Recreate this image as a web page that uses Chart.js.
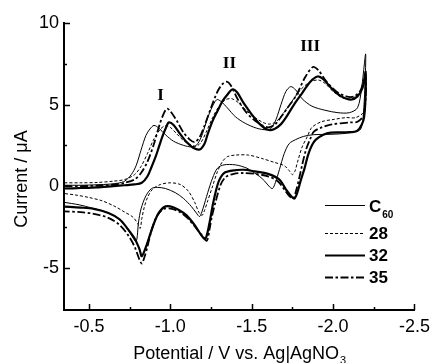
<!DOCTYPE html>
<html><head><meta charset="utf-8">
<script src="https://cdn.jsdelivr.net/npm/chart.js@4/dist/chart.umd.min.js"></script>
<style>html,body{margin:0;padding:0;background:#fff}canvas{display:block}</style>
</head><body>
<canvas id="c" width="436" height="363"></canvas>
<script>
// ---- data (potential in V vs Ag|AgNO3, current in uA) ----
const seriesLabels = ['C60', '28', '32', '35'];

const c60FwdE = [-0.35,-0.45,-0.55,-0.63,-0.68,-0.72,-0.76,-0.79,-0.82,-0.85,-0.875,-0.90,-0.93,-0.97,-1.02,-1.08,-1.13,-1.16,-1.19,-1.22,-1.25,-1.285,-1.31,-1.35,-1.40,-1.46,-1.53,-1.59,-1.62,-1.65,-1.68,-1.71,-1.74,-1.77,-1.81,-1.87,-1.95,-2.03,-2.10,-2.15,-2.175,-2.20];
const c60FwdI = [0.05,0.05,0.08,0.12,0.18,0.3,0.7,1.25,2.2,3.1,3.5,3.72,3.55,3.15,2.75,2.5,2.4,2.5,3.0,3.9,4.7,5.3,5.2,4.8,4.25,3.85,3.55,3.45,3.55,4.1,5.0,5.8,6.1,5.9,5.35,4.9,4.65,4.5,4.5,4.8,6.0,8.1];
const c60RevE = [-2.19,-2.17,-2.12,-2.04,-1.96,-1.88,-1.82,-1.77,-1.73,-1.70,-1.67,-1.645,-1.628,-1.61,-1.58,-1.55,-1.51,-1.47,-1.40,-1.33,-1.29,-1.26,-1.23,-1.20,-1.18,-1.16,-1.13,-1.08,-1.03,-0.97,-0.92,-0.885,-0.85,-0.82,-0.805,-0.79,-0.76,-0.728,-0.667,-0.59,-0.52,-0.44,-0.35];
const c60RevI = [5.0,3.5,3.3,3.2,3.17,3.15,3.05,2.85,2.6,2.0,1.0,0.2,-0.15,-0.05,0.3,0.58,0.85,1.1,1.3,1.3,1.1,0.5,-0.4,-1.4,-1.87,-1.65,-1.26,-0.75,-0.4,-0.15,-0.08,-0.15,-0.6,-1.4,-2.2,-3.4,-3.0,-2.5,-1.9,-1.55,-1.35,-1.15,-1.0];

const s28FwdE = [-0.35,-0.45,-0.55,-0.65,-0.72,-0.78,-0.82,-0.86,-0.90,-0.94,-0.97,-1.00,-1.04,-1.08,-1.12,-1.16,-1.19,-1.22,-1.26,-1.30,-1.34,-1.38,-1.42,-1.47,-1.52,-1.57,-1.61,-1.65,-1.69,-1.74,-1.80,-1.86,-1.91,-1.95,-2.00,-2.06,-2.11,-2.15,-2.18,-2.20];
const s28FwdI = [0.2,0.2,0.22,0.3,0.4,0.7,1.2,2.0,2.9,3.5,3.7,3.6,3.2,2.8,2.55,2.45,2.7,3.3,4.2,4.9,5.3,5.35,5.1,4.6,4.2,3.9,3.8,3.95,4.4,5.1,5.9,6.4,6.5,6.3,5.8,5.4,5.35,5.6,6.0,6.6];
const s28RevE = [-2.19,-2.14,-2.08,-2.00,-1.93,-1.87,-1.84,-1.81,-1.785,-1.765,-1.75,-1.73,-1.70,-1.64,-1.56,-1.48,-1.40,-1.35,-1.32,-1.29,-1.26,-1.23,-1.21,-1.195,-1.175,-1.15,-1.11,-1.06,-1.00,-0.94,-0.89,-0.86,-0.84,-0.825,-0.815,-0.80,-0.77,-0.72,-0.66,-0.58,-0.50,-0.42,-0.35];
const s28RevI = [4.6,4.2,4.2,4.08,3.95,3.6,3.0,2.4,1.6,0.9,0.7,0.95,1.25,1.45,1.7,1.9,1.9,1.8,1.5,0.9,0.0,-0.9,-1.5,-1.8,-1.6,-1.0,-0.3,0.1,0.2,0.1,-0.2,-0.7,-1.3,-2.0,-2.6,-2.3,-1.9,-1.6,-1.25,-0.9,-0.7,-0.55,-0.46];

const s32FwdE = [-0.35,-0.45,-0.55,-0.65,-0.72,-0.78,-0.825,-0.86,-0.886,-0.91,-0.93,-0.95,-0.97,-0.99,-1.02,-1.06,-1.10,-1.14,-1.18,-1.21,-1.23,-1.26,-1.29,-1.32,-1.35,-1.38,-1.41,-1.45,-1.50,-1.55,-1.60,-1.64,-1.68,-1.71,-1.76,-1.81,-1.86,-1.905,-1.94,-1.99,-2.05,-2.11,-2.15,-2.18,-2.20];
const s32FwdI = [-0.15,-0.12,-0.08,0.0,0.05,0.1,0.2,0.6,1.2,1.8,2.4,3.0,3.5,3.9,3.75,3.2,2.7,2.35,2.24,2.6,3.2,4.0,4.6,5.2,5.6,5.92,5.75,5.1,4.4,3.8,3.45,3.5,3.8,4.2,5.0,5.7,6.4,6.72,6.55,6.0,5.5,5.3,5.5,6.0,7.0];
const s32RevE = [-2.19,-2.15,-2.08,-1.985,-1.94,-1.894,-1.87,-1.846,-1.825,-1.80,-1.78,-1.762,-1.74,-1.71,-1.67,-1.60,-1.52,-1.45,-1.38,-1.33,-1.30,-1.28,-1.26,-1.24,-1.215,-1.19,-1.15,-1.10,-1.05,-1.00,-0.96,-0.92,-0.885,-0.855,-0.825,-0.81,-0.78,-0.74,-0.69,-0.62,-0.53,-0.45,-0.35];
const s32RevI = [4.2,3.4,3.3,3.28,3.15,2.85,2.5,1.9,1.1,0.3,-0.4,-0.77,-0.6,-0.2,0.4,0.75,0.9,1.0,0.95,0.8,0.35,-0.3,-1.2,-2.3,-3.25,-3.0,-2.4,-1.8,-1.45,-1.25,-1.3,-1.8,-2.7,-3.6,-4.3,-3.85,-3.2,-2.65,-2.05,-1.65,-1.4,-1.32,-1.26];

const s35FwdE = [-0.35,-0.45,-0.55,-0.65,-0.72,-0.78,-0.82,-0.86,-0.90,-0.935,-0.96,-0.98,-1.00,-1.04,-1.08,-1.12,-1.15,-1.18,-1.21,-1.25,-1.29,-1.32,-1.345,-1.37,-1.41,-1.46,-1.51,-1.56,-1.60,-1.64,-1.67,-1.72,-1.77,-1.83,-1.876,-1.91,-1.96,-2.02,-2.08,-2.13,-2.17,-2.20];
const s35FwdI = [0.0,0.0,0.02,0.08,0.2,0.4,0.8,1.5,2.6,3.8,4.45,4.75,4.6,4.0,3.3,2.85,2.7,3.0,3.7,4.8,5.8,6.25,6.4,6.2,5.4,4.6,4.1,3.75,3.6,3.75,4.1,4.8,5.5,6.7,7.3,7.1,6.4,5.8,5.5,5.5,5.9,6.8];
const s35RevE = [-2.19,-2.15,-2.106,-1.985,-1.93,-1.882,-1.86,-1.834,-1.81,-1.79,-1.775,-1.755,-1.73,-1.70,-1.66,-1.60,-1.52,-1.45,-1.39,-1.34,-1.31,-1.28,-1.255,-1.24,-1.225,-1.20,-1.16,-1.11,-1.06,-1.01,-0.96,-0.92,-0.885,-0.86,-0.84,-0.825,-0.81,-0.78,-0.74,-0.69,-0.62,-0.53,-0.45,-0.35];
const s35RevI = [4.4,3.95,3.9,3.77,3.6,3.34,2.9,2.24,1.3,0.4,-0.2,-0.77,-0.6,-0.2,0.3,0.6,0.75,0.8,0.75,0.55,0.1,-0.9,-1.9,-2.7,-3.35,-3.1,-2.6,-2.0,-1.6,-1.4,-1.4,-1.8,-2.7,-3.7,-4.4,-4.75,-4.5,-3.7,-3.0,-2.4,-1.95,-1.7,-1.6,-1.55];

const xMajorTicks = [-0.5, -1.0, -1.5, -2.0, -2.5];
const xMinorTicks = [-0.75, -1.25, -1.75, -2.25];
const yMajorTicks = [-5, 0, 5, 10];
const yMinorTicks = [-2.5, 2.5, 7.5];

const peakNames = ['I', 'II', 'III'];
const peakNameE = [-0.94, -1.363, -1.859];
const peakNameI = [5.59, 7.55, 8.62];

const xTitleMain = 'Potential / V vs. Ag|AgNO';
const xTitleSub = '3';
const yTitle = 'Current / \u03BCA';

// ---- build ----
function pts(e1, i1, e2, i2) {
  const a = e1.map((e, k) => ({x: e, y: i1[k]}));
  return a.concat(e2.map((e, k) => ({x: e, y: i2[k]})));
}
const SANS = '"Liberation Sans", Arial, Helvetica, sans-serif';
const SERIF = '"Liberation Serif", "Times New Roman", serif';
Chart.defaults.font.family = SANS;
Chart.defaults.color = '#000';

const styles = [
  {borderWidth: 1, borderDash: []},
  {borderWidth: 1, borderDash: [3, 2]},
  {borderWidth: 2.2, borderDash: []},
  {borderWidth: 1.8, borderDash: [8, 2.5, 2.5, 2.5]}
];
const dataList = [
  pts(c60FwdE, c60FwdI, c60RevE, c60RevI),
  pts(s28FwdE, s28FwdI, s28RevE, s28RevI),
  pts(s32FwdE, s32FwdI, s32RevE, s32RevI),
  pts(s35FwdE, s35FwdI, s35RevE, s35RevI)
];
const datasets = seriesLabels.map((lab, k) => ({
  label: lab, data: dataList[k], showLine: true, pointRadius: 0,
  borderColor: '#000', backgroundColor: '#000', fill: false, tension: 0.3,
  borderWidth: styles[k].borderWidth, borderDash: styles[k].borderDash,
  borderJoinStyle: 'round'
}));

const decor = {
  id: 'decor',
  afterDraw(chart) {
    const ctx = chart.ctx, xs = chart.scales.x, ys = chart.scales.y, a = chart.chartArea;
    ctx.save();
    ctx.strokeStyle = '#000'; ctx.fillStyle = '#000'; ctx.lineWidth = 1.5; ctx.setLineDash([]);
    // inward ticks
    ctx.beginPath();
    xMajorTicks.forEach(v => { const p = Math.round(xs.getPixelForValue(v)) + 0.5; ctx.moveTo(p, a.bottom); ctx.lineTo(p, a.bottom - 6); });
    xMinorTicks.forEach(v => { const p = Math.round(xs.getPixelForValue(v)) + 0.5; ctx.moveTo(p, a.bottom); ctx.lineTo(p, a.bottom - 3); });
    yMajorTicks.forEach(v => { const p = Math.round(ys.getPixelForValue(v)) + 0.5; ctx.moveTo(a.left, p); ctx.lineTo(a.left + 6, p); });
    yMinorTicks.forEach(v => { const p = Math.round(ys.getPixelForValue(v)) + 0.5; ctx.moveTo(a.left, p); ctx.lineTo(a.left + 3, p); });
    ctx.stroke();

    // axis titles
    ctx.font = '18px ' + SANS;
    ctx.textBaseline = 'alphabetic';
    const wMain = ctx.measureText(xTitleMain).width;
    ctx.font = '11px ' + SANS;
    const wSub = ctx.measureText(xTitleSub).width;
    const cx = (a.left + a.right) / 2;
    const x0 = cx - (wMain + wSub) / 2;
    ctx.font = '18px ' + SANS;
    ctx.textAlign = 'left';
    ctx.fillText(xTitleMain, x0, 359);
    ctx.font = '11px ' + SANS;
    ctx.fillText(xTitleSub, x0 + wMain + 1, 364);

    ctx.save();
    ctx.translate(26.5, 179);
    ctx.rotate(-Math.PI / 2);
    ctx.font = '18px ' + SANS;
    ctx.textAlign = 'center';
    ctx.fillText(yTitle, 0, 0);
    ctx.restore();

    // peak labels
    ctx.font = 'bold 17px ' + SERIF;
    ctx.textAlign = 'center';
    peakNames.forEach((t, k) => {
      ctx.fillText(t, xs.getPixelForValue(peakNameE[k]), ys.getPixelForValue(peakNameI[k]) + 5.5);
    });

    // legend
    const rows = [205, 233, 255, 277];
    chart.data.datasets.forEach((ds, k) => {
      const y = rows[k] + 0.5;
      ctx.lineWidth = ds.borderWidth;
      ctx.setLineDash(ds.borderDash || []);
      ctx.beginPath(); ctx.moveTo(325, y); ctx.lineTo(365, y); ctx.stroke();
      ctx.setLineDash([]);
      ctx.textAlign = 'left';
      ctx.font = 'bold 17px ' + SANS;
      const lab = ds.label;
      if (lab === 'C60') {
        ctx.fillText('C', 369, rows[k] + 7);
        const w = ctx.measureText('C').width;
        ctx.font = 'bold 10px ' + SANS;
        ctx.fillText('60', 369 + w + 1, rows[k] + 13);
      } else {
        ctx.fillText(lab, 369, rows[k] + 6);
      }
    });
    ctx.restore();
  }
};

new Chart(document.getElementById('c').getContext('2d'), {
  type: 'scatter',
  data: {datasets},
  options: {
    responsive: false, animation: false, events: [],
    layout: {padding: {left: 0, top: 23, right: 16, bottom: 0}},
    plugins: {legend: {display: false}, tooltip: {enabled: false}},
    scales: {
      x: {
        type: 'linear', reverse: true, min: -2.5, max: -0.347,
        grid: {display: false, drawTicks: false},
        border: {display: true, color: '#000', width: 2},
        ticks: {color: '#000', font: {size: 18}, padding: 6, autoSkip: false, maxRotation: 0,
                callback: v => Number(v).toFixed(1)},
        afterBuildTicks: axis => { axis.ticks = xMajorTicks.map(v => ({value: v})); },
        afterFit: axis => { axis.height = 53; }
      },
      y: {
        type: 'linear', min: -7.6, max: 10,
        grid: {display: false, drawTicks: false},
        border: {display: true, color: '#000', width: 2},
        ticks: {color: '#000', font: {size: 18}, padding: 5, autoSkip: false,
                callback: v => String(v)},
        afterBuildTicks: axis => { axis.ticks = yMajorTicks.map(v => ({value: v})); },
        afterFit: axis => { axis.width = 64; }
      }
    }
  },
  plugins: [decor]
});
</script>
</body></html>
